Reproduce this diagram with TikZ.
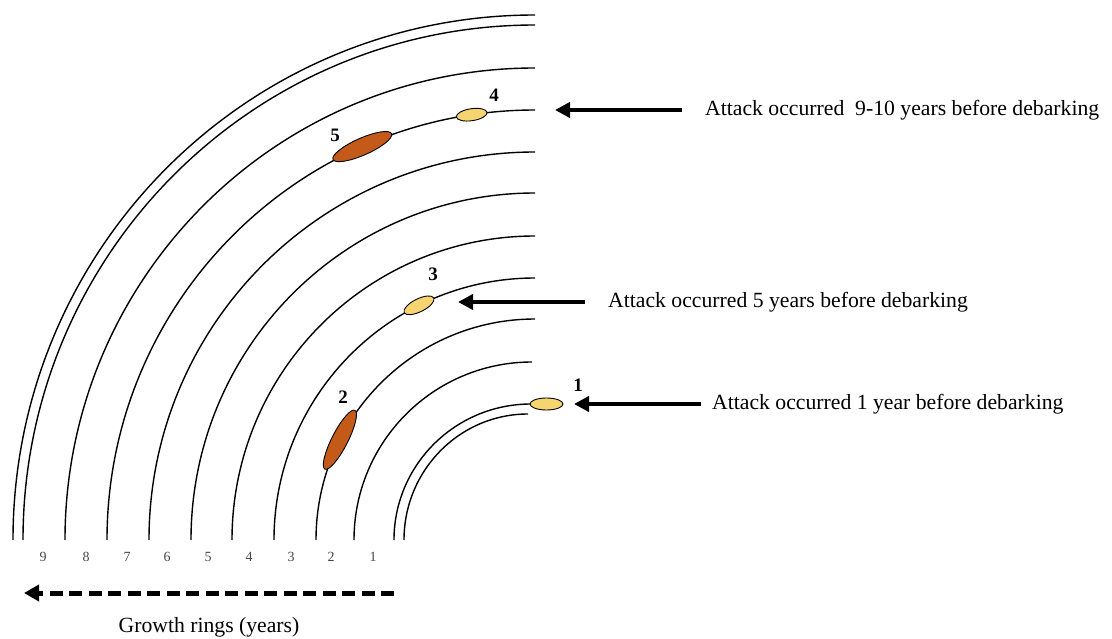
\documentclass[tikz,border=0pt]{standalone}
\usepackage{fontspec}
\setmainfont{Liberation Serif}
\usetikzlibrary{arrows.meta}
\definecolor{spotyellow}{RGB}{246,212,112}
\definecolor{spotbrown}{RGB}{196,90,26}
\definecolor{ringnum}{RGB}{70,70,70}
\tikzset{
  ring/.style={line width=1.4pt, black},
  spot/.style={ellipse, draw=black, line width=0.9pt, inner sep=0pt},
  yspot/.style={spot, fill=spotyellow},
  bspot/.style={spot, fill=spotbrown},
  spotlabel/.style={font=\fontsize{19}{22}\selectfont\bfseries, inner sep=0pt},
  yearlabel/.style={font=\fontsize{14}{16}\selectfont, text=ringnum, inner sep=0pt},
  caption/.style={font=\fontsize{21.7}{26}\selectfont, inner sep=0pt, anchor=west},
  bigarrow/.style={line width=4pt, -{Triangle[width=15pt,length=15pt]}},
  growarrow/.style={line width=5pt, dash pattern=on 13pt off 6.5pt, -{Triangle[width=16pt,length=15pt]}}
}
\usetikzlibrary{shapes.geometric}
\begin{document}
\begin{tikzpicture}[x=1pt,y=1pt]
\useasboundingbox (0,0) rectangle (1112,638);
% growth rings
\foreach \xb/\xe/\yt in {13/535/15, 23/535/25, 65/535/68, 107/535/110, 149/535/152, 191/535/193, 232/535/236, 274/535/278, 316/535/319, 354/532/362, 394/531/404, 404/528/414}{
  \pgfmathsetmacro\rx{\xe-\xb}
  \pgfmathsetmacro\ry{540-\yt}
  \draw[ring] (\xb,98) arc[start angle=180, end angle=90, x radius=\rx pt, y radius=\ry pt];
}
% attack spots
\node[yspot, minimum width=33pt, minimum height=12pt] (e1) at (546.5,234) {};
\node[bspot, minimum width=66pt, minimum height=16pt, rotate=63] (e2) at (339.9,198.3) {};
\node[yspot, minimum width=33pt, minimum height=13pt, rotate=26.4] (e3) at (419.0,332.7) {};
\node[yspot, minimum width=31pt, minimum height=12pt, rotate=8.5] (e4) at (471.7,523.3) {};
\node[bspot, minimum width=64pt, minimum height=17pt, rotate=23.8] (e5) at (362.3,491.4) {};
% spot labels
\node[spotlabel] (l1) at (578,253) {1};
\node[spotlabel] (l2) at (343,241) {2};
\node[spotlabel] (l3) at (433,364) {3};
\node[spotlabel] (l4) at (494,543) {4};
\node[spotlabel] (l5) at (335,503) {5};
% ring numbers
\foreach \n/\x in {9/43, 8/86, 7/127, 6/167, 5/208, 4/249, 3/291, 2/331, 1/373}{
  \node[yearlabel] (y\n) at (\x,81) {\n};
}
% captions and arrows
\node[caption] (c4) at (705,528) {Attack occurred \ 9-10 years before debarking};
\node[caption] (c3) at (608,336) {Attack occurred 5 years before debarking};
\node[caption] (c1) at (712,234) {Attack occurred 1 year before debarking};
\coordinate (s4) at (682,528); \coordinate (t4) at (555,528);
\coordinate (s3) at (585,336); \coordinate (t3) at (458,336);
\coordinate (s1) at (701,234); \coordinate (t1) at (574,234);
\draw[bigarrow] (s4) -- (t4);
\draw[bigarrow] (s3) -- (t3);
\draw[bigarrow] (s1) -- (t1);
% growth direction
\coordinate (gs) at (394,45); \coordinate (ge) at (24,45);
\draw[growarrow] (gs) -- (ge);
\node[font=\fontsize{21.7}{26}\selectfont, inner sep=0pt] (gl) at (209,11) {Growth rings (years)};
\end{tikzpicture}
\end{document}
